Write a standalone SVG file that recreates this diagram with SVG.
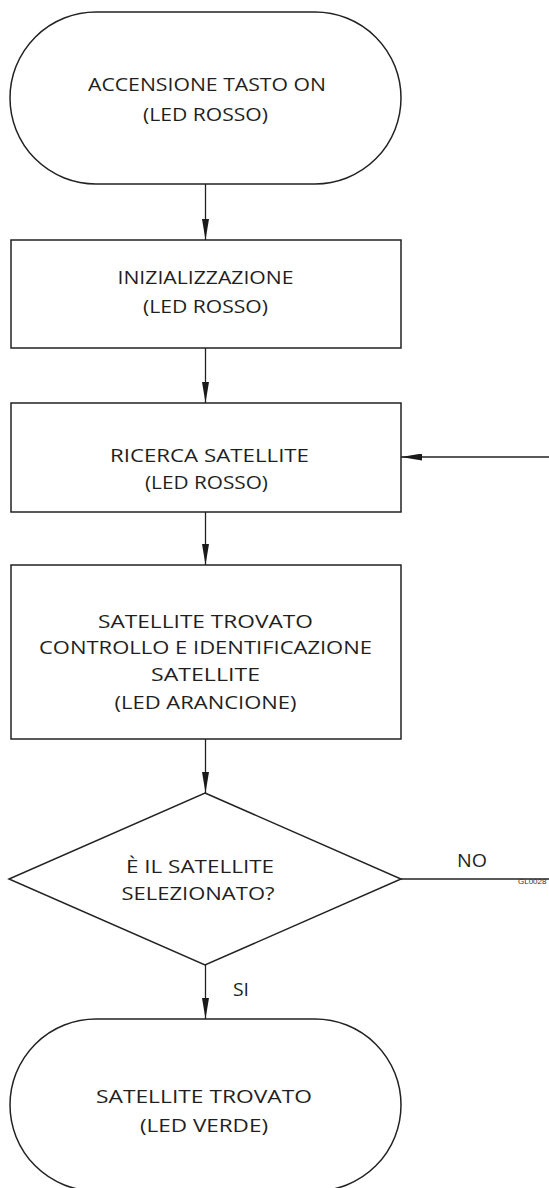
<svg xmlns="http://www.w3.org/2000/svg" width="549" height="1188" viewBox="0 0 549 1188">
  <style>
    .shape { fill: #ffffff; stroke: #222222; stroke-width: 1.5; }
    .line { fill: none; stroke: #222222; stroke-width: 1.3; }
    .label { font-family: "Open Sans", "Noto Sans", "Liberation Sans", sans-serif; font-weight: 400; font-size: 19px; fill: #1f1f1f; text-anchor: middle; }
    .code { font-family: "Liberation Sans", Arial, sans-serif; font-size: 8px; fill: #333333; }
  </style>
  <defs>
    <marker id="arrow" viewBox="0 0 21 7" refX="21" refY="3.5" markerWidth="21" markerHeight="7" markerUnits="userSpaceOnUse" orient="auto">
      <path d="M0,0 L21,3.5 L0,7 Z" fill="#1a1a1a"/>
    </marker>
  </defs>

  <rect width="549" height="1188" fill="#ffffff"/>

  <!-- start terminal -->
  <g id="start">
    <rect class="shape" x="10" y="12" width="391" height="172" rx="86" ry="86"/>
    <text class="label" x="207" y="91" textLength="238" lengthAdjust="spacingAndGlyphs">ACCENSIONE TASTO ON</text>
    <text class="label" x="205.5" y="121" textLength="125" lengthAdjust="spacingAndGlyphs">(LED ROSSO)</text>
  </g>

  <!-- initialisation step -->
  <g id="init">
    <rect class="shape" x="11" y="240" width="390" height="108"/>
    <text class="label" x="205.5" y="284" textLength="176" lengthAdjust="spacingAndGlyphs">INIZIALIZZAZIONE</text>
    <text class="label" x="205.5" y="313" textLength="125" lengthAdjust="spacingAndGlyphs">(LED ROSSO)</text>
  </g>

  <!-- satellite search -->
  <g id="search">
    <rect class="shape" x="11" y="403" width="390" height="109"/>
    <text class="label" x="209.5" y="462" textLength="199" lengthAdjust="spacingAndGlyphs">RICERCA SATELLITE</text>
    <text class="label" x="206.5" y="489" textLength="123" lengthAdjust="spacingAndGlyphs">(LED ROSSO)</text>
  </g>

  <!-- satellite found / check -->
  <g id="check">
    <rect class="shape" x="11" y="565" width="390" height="174"/>
    <text class="label" x="205.5" y="628" textLength="215" lengthAdjust="spacingAndGlyphs">SATELLITE TROVATO</text>
    <text class="label" x="205.5" y="654" textLength="333" lengthAdjust="spacingAndGlyphs">CONTROLLO E IDENTIFICAZIONE</text>
    <text class="label" x="205.5" y="681" textLength="109" lengthAdjust="spacingAndGlyphs">SATELLITE</text>
    <text class="label" x="205.5" y="709" textLength="182" lengthAdjust="spacingAndGlyphs">(LED ARANCIONE)</text>
  </g>

  <!-- decision -->
  <g id="decision">
    <polygon class="shape" points="205,793 401,879 205,965 9,879"/>
    <text class="label" x="200" y="873" textLength="148" lengthAdjust="spacingAndGlyphs">È IL SATELLITE</text>
    <text class="label" x="198" y="900" textLength="153" lengthAdjust="spacingAndGlyphs">SELEZIONATO?</text>
  </g>

  <!-- end terminal -->
  <g id="end">
    <rect class="shape" x="10" y="1019" width="391" height="172" rx="86" ry="86"/>
    <text class="label" x="204" y="1103" textLength="216" lengthAdjust="spacingAndGlyphs">SATELLITE TROVATO</text>
    <text class="label" x="204" y="1132" textLength="128" lengthAdjust="spacingAndGlyphs">(LED VERDE)</text>
  </g>

  <!-- connectors -->
  <g id="connectors">
    <line class="line" x1="205.5" y1="184" x2="205.5" y2="240" marker-end="url(#arrow)"/>
    <line class="line" x1="205.5" y1="348" x2="205.5" y2="403" marker-end="url(#arrow)"/>
    <line class="line" x1="205.5" y1="512" x2="205.5" y2="565" marker-end="url(#arrow)"/>
    <line class="line" x1="205.5" y1="739" x2="205.5" y2="793" marker-end="url(#arrow)"/>
    <line class="line" x1="205.5" y1="965" x2="205.5" y2="1019" marker-end="url(#arrow)"/>
    <line class="line" x1="549" y1="457" x2="401" y2="457" marker-end="url(#arrow)"/>
    <line class="line" x1="401" y1="879" x2="549" y2="879"/>
    <text class="label" x="472" y="867" textLength="30" lengthAdjust="spacingAndGlyphs">NO</text>
    <text class="label" x="241" y="996" textLength="16" lengthAdjust="spacingAndGlyphs">SI</text>
    <text class="code" x="518" y="884">GL0028</text>
  </g>
</svg>
